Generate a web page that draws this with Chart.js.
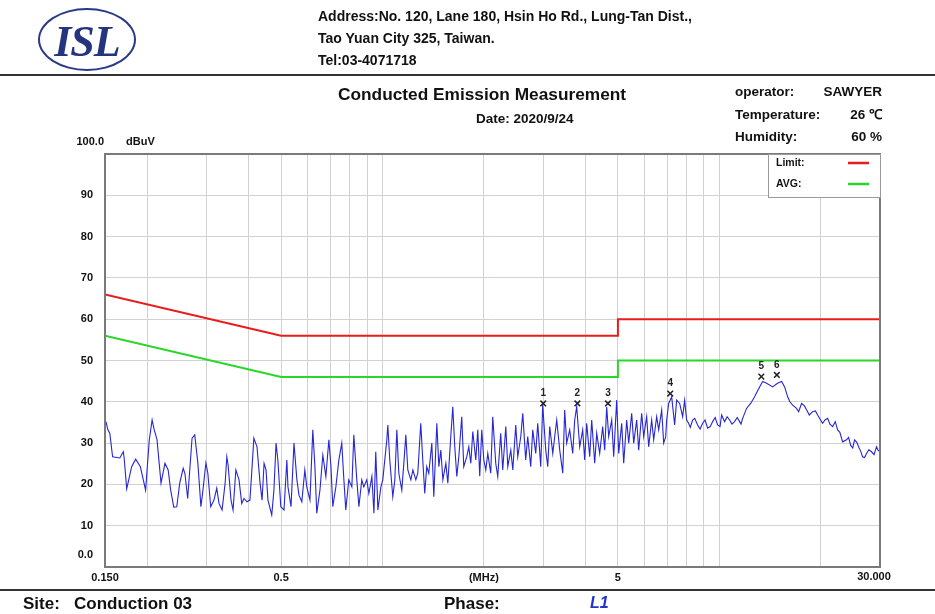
<!DOCTYPE html>
<html>
<head>
<meta charset="utf-8">
<script src="https://cdn.jsdelivr.net/npm/chart.js@4.4.1/dist/chart.umd.min.js"></script>
<style>
  html, body { margin: 0; padding: 0; background: #fff; }
  #page { position: relative; width: 935px; height: 614px; overflow: hidden; font-family: "Liberation Sans", Arial, sans-serif; color: #111; }
  #page canvas { position: absolute; left: 0; top: 0; }
  .t { position: absolute; white-space: nowrap; font-weight: bold; line-height: 1; }
  .r { text-align: right; }
  .hr { position: absolute; left: 0; width: 935px; background: #333; }
  #logo { position: absolute; left: 38px; top: 8px; width: 94px; height: 59px; border: 2px solid #2b3a86; border-radius: 50%; }
  #logo span { position: absolute; left: 0; right: 0; top: 6px; text-align: center; font: italic bold 44px "Liberation Serif", "DejaVu Serif", serif; color: #24347e; letter-spacing: -1px; }
</style>
</head>
<body>
<div id="page">
  <canvas id="emiChart" width="935" height="614"></canvas>

  <div id="logo"><span>ISL</span></div>
  <div class="t" style="left:318px; top:9px; font-size:14px;">Address:No. 120, Lane 180, Hsin Ho Rd., Lung-Tan Dist.,</div>
  <div class="t" style="left:318px; top:31px; font-size:14px;">Tao Yuan City 325, Taiwan.</div>
  <div class="t" style="left:318px; top:53px; font-size:14px;">Tel:03-4071718</div>
  <div class="hr" style="top:74px; height:2px;"></div>

  <div class="t" style="left:338px; top:86px; font-size:17.3px;">Conducted Emission Measurement</div>
  <div class="t" style="left:476px; top:112px; font-size:13.5px;">Date: 2020/9/24</div>
  <div class="t" style="left:735px; top:85px; font-size:13.5px;">operator:</div>
  <div class="t r" style="right:53px; top:85px; font-size:13.5px;">SAWYER</div>
  <div class="t" style="left:735px; top:108px; font-size:13.5px;">Temperature:</div>
  <div class="t r" style="right:53px; top:108px; font-size:13.5px;">26 &#8451;</div>
  <div class="t" style="left:735px; top:130px; font-size:13.5px;">Humidity:</div>
  <div class="t r" style="right:53px; top:130px; font-size:13.5px;">60 %</div>

  <div class="hr" style="top:589px; height:2px;"></div>
  <div class="t" style="left:23px; top:595px; font-size:17px;">Site:&nbsp;&nbsp;&nbsp;Conduction 03</div>
  <div class="t" style="left:444px; top:595px; font-size:17px;">Phase:</div>
  <div class="t" style="left:590px; top:595px; font-size:16px; font-style:italic; color:#2233cc;">L1</div>
</div>

<script>
// limit lines (MHz / dBuV)
const limitFreq = [0.15, 0.5, 5, 5, 30];
const limitLevel = [66, 56, 56, 60, 60];
const avgLevel = [56, 46, 46, 50, 50];

const traceFreq = [
  0.151, 0.153, 0.155, 0.158, 0.166, 0.170, 0.171, 0.174, 0.180, 0.185,
  0.191, 0.198, 0.203, 0.207, 0.210, 0.214, 0.220, 0.226, 0.231, 0.235,
  0.240, 0.245, 0.250, 0.256, 0.259, 0.264, 0.272, 0.277, 0.283, 0.289,
  0.293, 0.299, 0.303, 0.309, 0.316, 0.322, 0.327, 0.334, 0.341, 0.345,
  0.348, 0.355, 0.360, 0.367, 0.375, 0.382, 0.388, 0.396, 0.404, 0.410,
  0.415, 0.424, 0.433, 0.439, 0.445, 0.451, 0.457, 0.469, 0.476, 0.483,
  0.489, 0.499, 0.510, 0.520, 0.524, 0.535, 0.546, 0.557, 0.565, 0.576,
  0.588, 0.596, 0.609, 0.621, 0.630, 0.638, 0.652, 0.665, 0.679, 0.693,
  0.703, 0.712, 0.727, 0.742, 0.757, 0.768, 0.778, 0.794, 0.811, 0.822,
  0.839, 0.851, 0.868, 0.880, 0.898, 0.911, 0.930, 0.943, 0.955, 0.969,
  0.989, 1.002, 1.030, 1.037, 1.051, 1.073, 1.088, 1.103, 1.118, 1.141,
  1.157, 1.173, 1.189, 1.214, 1.231, 1.256, 1.273, 1.299, 1.317, 1.335,
  1.353, 1.372, 1.401, 1.420, 1.450, 1.470, 1.490, 1.511, 1.542, 1.563,
  1.595, 1.617, 1.639, 1.662, 1.685, 1.719, 1.743, 1.779, 1.804, 1.829,
  1.854, 1.892, 1.918, 1.944, 1.971, 1.999, 2.026, 2.054, 2.096, 2.125,
  2.169, 2.199, 2.244, 2.275, 2.323, 2.355, 2.404, 2.437, 2.487, 2.521,
  2.574, 2.609, 2.662, 2.699, 2.755, 2.793, 2.851, 2.890, 2.950, 2.990,
  3.053, 3.095, 3.137, 3.203, 3.246, 3.291, 3.359, 3.429, 3.475, 3.523,
  3.596, 3.671, 3.721, 3.772, 3.851, 3.930, 3.984, 4.039, 4.123, 4.180,
  4.266, 4.325, 4.414, 4.506, 4.568, 4.631, 4.695, 4.792, 4.858, 4.958,
  5.027, 5.131, 5.202, 5.309, 5.383, 5.494, 5.570, 5.684, 5.763, 5.882,
  5.964, 6.086, 6.170, 6.298, 6.385, 6.517, 6.607, 6.744, 6.837, 6.930,
  6.978, 7.074, 7.221, 7.369, 7.471, 7.626, 7.784, 7.890, 7.999, 8.109,
  8.20, 8.334, 8.45, 8.624, 8.77, 8.924, 9.07, 9.234, 9.40, 9.555,
  9.72, 9.886, 10.05, 10.16, 10.37, 10.55, 10.73, 10.90, 11.10, 11.30,
  11.49, 11.60, 11.73, 12.05, 12.39, 12.73, 13.17, 13.45, 13.82, 14.40,
  14.89, 15.31, 15.63, 15.96, 16.20, 16.51, 16.96, 17.20, 17.55, 17.90,
  18.17, 18.50, 18.93, 19.30, 19.58, 20.26, 20.60, 20.97, 21.30, 21.70,
  22.10, 22.45, 22.80, 23.23, 23.87, 24.20, 24.54, 24.90, 25.21, 25.60,
  25.91, 26.30, 26.63, 27.00, 27.36, 27.80, 28.32, 28.80, 29.30, 29.60,
  30.0
];
const traceLevel = [
  35.2, 33.2, 32.4, 26.7, 26.4, 27.9, 26.4, 18.9, 24.3, 26.1,
  24.3, 18.6, 30.7, 35.6, 33.2, 30.9, 20.3, 25.1, 23.5, 18.6,
  14.5, 14.6, 20.3, 23.9, 22.7, 16.6, 31.2, 32.0, 25.2, 14.6,
  18.6, 25.2, 22.7, 14.6, 16.2, 19.1, 15.4, 13.8, 20.3, 26.7,
  24.7, 16.2, 13.8, 23.5, 21.1, 15.4, 16.6, 15.8, 16.2, 24.3,
  31.2, 29.1, 20.3, 16.2, 25.1, 23.5, 16.2, 12.6, 18.6, 30.0,
  25.9, 14.6, 13.8, 25.9, 19.4, 14.6, 30.0, 21.1, 17.4, 15.8,
  23.5, 19.4, 16.2, 33.2, 24.3, 13.0, 18.6, 27.1, 21.9, 30.8,
  24.3, 14.6, 19.4, 25.9, 30.0, 21.1, 13.8, 21.1, 19.4, 32.0,
  21.1, 14.6, 21.1, 19.4, 21.1, 17.8, 21.9, 13.0, 27.9, 13.8,
  19.4, 21.1, 30.8, 34.4, 25.9, 17.0, 21.1, 33.2, 22.7, 18.6,
  25.1, 32.0, 23.5, 21.1, 23.5, 21.1, 22.7, 34.8, 25.9, 17.8,
  24.3, 22.7, 30.0, 17.0, 34.8, 24.3, 28.3, 21.1, 25.1, 20.3,
  31.6, 38.8, 29.1, 21.9, 26.7, 36.4, 24.3, 26.7, 29.1, 25.1,
  32.8, 25.9, 33.2, 22.0, 33.2, 25.9, 23.5, 27.5, 22.7, 36.4,
  25.1, 21.9, 32.4, 23.5, 34.0, 24.3, 28.3, 23.5, 34.4, 26.7,
  31.6, 37.2, 25.9, 31.6, 24.3, 33.2, 27.5, 34.8, 24.3, 39.2,
  28.3, 24.3, 34.0, 27.5, 31.6, 35.6, 28.3, 22.7, 38.0, 30.0,
  33.2, 27.5, 35.6, 38.8, 29.1, 33.2, 25.9, 34.8, 26.7, 35.6,
  25.1, 32.4, 27.5, 34.0, 28.3, 38.8, 31.6, 35.6, 26.7, 40.4,
  27.5, 34.8, 25.1, 35.6, 30.0, 37.2, 30.0, 35.6, 28.3, 37.2,
  31.6, 36.4, 29.1, 35.6, 30.8, 36.4, 33.2, 38.0, 30.0, 31.5,
  35.6, 39.6, 41.2, 34.4, 40.4, 39.6, 36.4, 40.4, 35.6, 34.8,
  33.8, 35.6, 36.0, 34.4, 33.4, 34.8, 35.6, 33.6, 34.0, 35.2,
  36.2, 34.4, 34.0, 36.8, 35.2, 36.4, 35.6, 34.6, 35.2, 36.2,
  35.2, 34.6, 36.0, 38.4, 39.6, 41.2, 43.6, 44.9, 44.5, 43.6,
  44.5, 44.9, 43.6, 41.2, 40.0, 39.2, 38.4, 37.6, 39.6, 39.0,
  38.0, 36.8, 37.6, 37.8, 36.8, 34.8, 35.6, 36.0, 34.6, 34.0,
  35.2, 33.2, 32.6, 30.3, 30.8, 31.4, 29.5, 28.8, 30.8, 30.2,
  29.1, 28.0, 26.7, 26.5, 27.5, 28.4, 27.9, 27.2, 29.1, 28.3,
  27.9
];

// peak markers
const markerFreq = [3.00, 3.79, 4.67, 7.15, 13.33, 14.82];
const markerLevel = [39.6, 39.6, 39.6, 42.0, 46.1, 46.5];
const markerNames = ['1', '2', '3', '4', '5', '6'];

// axes
const gridFreq = [0.15, 0.2, 0.3, 0.4, 0.5, 0.6, 0.7, 0.8, 0.9, 1, 2, 3, 4, 5, 6, 7, 8, 9, 10, 20, 30];
const xTickText = { 0.15: '0.150', 0.5: '0.5', 2: '(MHz)', 5: '5' };
const xEndText = '30.000';
const yTickValues = [0, 10, 20, 30, 40, 50, 60, 70, 80, 90];
const yTickText = ['0.0', '10', '20', '30', '40', '50', '60', '70', '80', '90'];

const legendItems = [
  { label: 'Limit:', color: 'rgb(232,28,28)' },
  { label: 'AVG:', color: 'rgb(40,215,40)' }
];

const zip = (xs, ys) => xs.map((x, i) => ({ x: x, y: ys[i] }));

const boldFont = '"Liberation Sans", Arial, sans-serif';

// frame, axis texts, legend box and marker numbers
const decorPlugin = {
  id: 'decor',
  afterDatasetsDraw(chart) {
    const { ctx, chartArea: a, scales } = chart;
    ctx.save();

    // plot frame
    ctx.strokeStyle = '#7a7a7a';
    ctx.lineWidth = 2;
    ctx.strokeRect(a.left, a.top, a.right - a.left, a.bottom - a.top);

    // y labels
    ctx.fillStyle = '#111';
    ctx.font = 'bold 11px ' + boldFont;
    ctx.textAlign = 'right';
    ctx.textBaseline = 'middle';
    yTickValues.forEach((v, i) => {
      let y = scales.y.getPixelForValue(v);
      if (v === 0) y -= 12;
      ctx.fillText(yTickText[i], a.left - 12, y);
    });
    ctx.fillText('100.0', a.left - 1, a.top - 12);
    ctx.textAlign = 'left';
    ctx.fillText('dBuV', a.left + 21, a.top - 12);

    // last x label sits a little inside the frame
    ctx.textAlign = 'center';
    ctx.fillText(xEndText, a.right - 6, a.bottom + 10);

    // legend box
    const bx = a.right - 112, by = a.top, bw = 112, bh = 43;
    ctx.fillStyle = '#fff';
    ctx.fillRect(bx, by, bw, bh);
    ctx.strokeStyle = '#9a9a9a';
    ctx.lineWidth = 1;
    ctx.strokeRect(bx + 0.5, by + 0.5, bw, bh);
    legendItems.forEach((it, i) => {
      const y = by + 9 + i * 21;
      ctx.fillStyle = '#111';
      ctx.font = 'bold 10.5px ' + boldFont;
      ctx.textAlign = 'left';
      ctx.fillText(it.label, bx + 8, y);
      ctx.strokeStyle = it.color;
      ctx.lineWidth = 2.5;
      ctx.beginPath();
      ctx.moveTo(a.right - 32, y);
      ctx.lineTo(a.right - 11, y);
      ctx.stroke();
    });

    // marker numbers
    ctx.fillStyle = '#222';
    ctx.font = 'bold 10px ' + boldFont;
    ctx.textAlign = 'center';
    ctx.textBaseline = 'middle';
    markerFreq.forEach((f, i) => {
      const x = scales.x.getPixelForValue(f);
      const y = scales.y.getPixelForValue(markerLevel[i]);
      ctx.fillText(markerNames[i], x, y - 10);
    });

    ctx.restore();
  }
};

new Chart(document.getElementById('emiChart'), {
  type: 'line',
  data: {
    datasets: [
      {
        label: 'trace',
        data: zip(traceFreq, traceLevel),
        borderColor: 'rgb(38,38,212)',
        borderWidth: 1.1,
        pointRadius: 0,
        tension: 0
      },
      {
        label: 'Limit',
        data: zip(limitFreq, limitLevel),
        borderColor: legendItems[0].color,
        borderWidth: 2,
        pointRadius: 0
      },
      {
        label: 'AVG',
        data: zip(limitFreq, avgLevel),
        borderColor: legendItems[1].color,
        borderWidth: 2,
        pointRadius: 0
      },
      {
        label: 'markers',
        data: zip(markerFreq, markerLevel),
        showLine: false,
        pointStyle: 'crossRot',
        pointRadius: 4,
        borderColor: '#222',
        borderWidth: 1.5
      }
    ]
  },
  options: {
    responsive: false,
    animation: false,
    events: [],
    layout: { padding: { left: 105, right: 55, top: 154, bottom: 25 } },
    plugins: {
      legend: { display: false },
      tooltip: { enabled: false }
    },
    scales: {
      x: {
        type: 'logarithmic',
        min: 0.15,
        max: 30,
        afterBuildTicks: (s) => { s.ticks = gridFreq.map(v => ({ value: v })); },
        afterFit: (s) => { s.height = 22; },
        grid: { color: '#d2d2d2', lineWidth: 1, drawTicks: false },
        border: { display: false },
        ticks: {
          autoSkip: false,
          maxRotation: 0,
          padding: 4,
          color: '#111',
          font: { family: boldFont, size: 11, weight: 'bold' },
          callback: (v) => xTickText[v] || ''
        }
      },
      y: {
        min: 0,
        max: 100,
        afterFit: (s) => { s.width = 0; },
        grid: { color: '#d2d2d2', lineWidth: 1, drawTicks: false },
        border: { display: false },
        ticks: { stepSize: 10, display: false }
      }
    }
  },
  plugins: [decorPlugin]
});
</script>
</body>
</html>
